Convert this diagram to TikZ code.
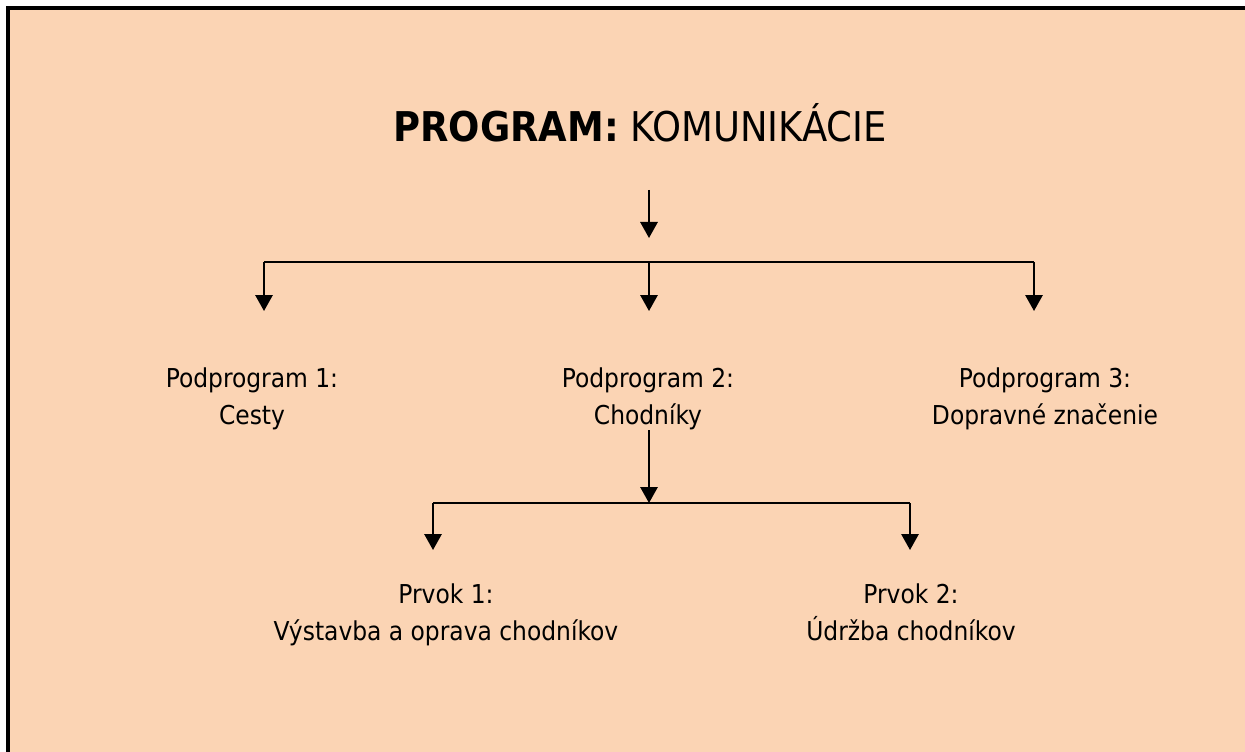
\documentclass[tikz,border=0pt]{standalone}
\usepackage{fontspec}
\setmainfont{DejaVu Sans Condensed}
\usetikzlibrary{arrows.meta}
\definecolor{peach}{HTML}{FBD4B4}
\begin{document}
\begin{tikzpicture}[x=0.75pt,y=-0.75pt,
  conn/.style={line width=1.5pt},
  arr/.style={conn,-{Triangle[width=13pt,length=12pt]}},
  lbl/.style={inner sep=0pt,align=center,anchor=base,font=\fontsize{19.5pt}{27.5pt}\selectfont}]
\useasboundingbox (0,0) rectangle (1245,752);
\fill[white] (0,0) rectangle (1245,752);
\fill[peach] (8,8) rectangle (1245,752);
\draw[line width=3pt] (8,752) -- (8,8) -- (1245,8);
% title
\node[inner sep=0pt,anchor=base,font=\fontsize{30.75pt}{36pt}\selectfont] (title) at (640,142) {\textbf{PROGRAM:} KOMUNIKÁCIE};
% first level
\coordinate (a0) at (649,190);
\coordinate (a0e) at (649,238);
\draw[arr] (a0) -- (a0e);
\coordinate (hl) at (264,262);
\coordinate (hm) at (649,262);
\coordinate (hr) at (1034,262);
\coordinate (p1t) at (264,311);
\coordinate (p2t) at (649,311);
\coordinate (p3t) at (1034,311);
\draw[conn] (hl) -- (hr);
\draw[arr] (hl) -- (p1t);
\draw[arr] (hm) -- (p2t);
\draw[arr] (hr) -- (p3t);
\node[lbl] (p1) at (252,424) {Podprogram 1:\\Cesty};
\node[lbl] (p2) at (648,424) {Podprogram 2:\\Chodníky};
\node[lbl] (p3) at (1045,424) {Podprogram 3:\\Dopravné značenie};
% second level
\coordinate (b0) at (649,430);
\coordinate (gm) at (649,503);
\draw[arr] (b0) -- (gm);
\coordinate (gl) at (433,503);
\coordinate (gr) at (910,503);
\coordinate (e1t) at (433,550);
\coordinate (e2t) at (910,550);
\draw[conn] (gl) -- (gr);
\draw[arr] (gl) -- (e1t);
\draw[arr] (gr) -- (e2t);
\node[lbl] (e1) at (446,640) {Prvok 1:\\Výstavba a oprava chodníkov};
\node[lbl] (e2) at (911,640) {Prvok 2:\\Údržba chodníkov};
\end{tikzpicture}
\end{document}
